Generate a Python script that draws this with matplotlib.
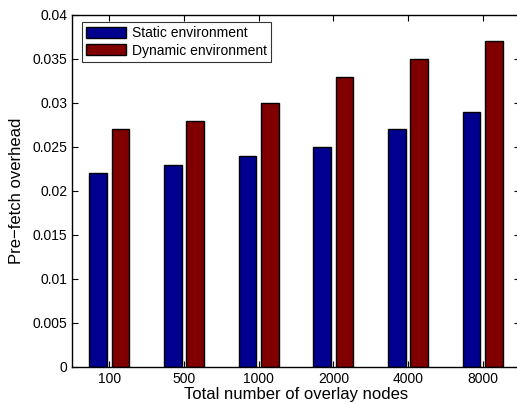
import numpy as np
import matplotlib
matplotlib.use('Agg')
import matplotlib.pyplot as plt

plt.rcParams['font.family'] = ['Liberation Sans', 'DejaVu Sans']

# Data
nodes = ['100', '500', '1000', '2000', '4000', '8000']
static_env = [0.022, 0.023, 0.024, 0.025, 0.027, 0.029]
dynamic_env = [0.027, 0.028, 0.030, 0.033, 0.035, 0.037]

fig = plt.figure(figsize=(5.17, 4.04), dpi=100)
ax = fig.add_axes([72 / 517, 1 - 367 / 404, 448 / 517, 352 / 404])

x = np.arange(1, len(nodes) + 1)
w = 0.24
off = 0.15
ax.bar(x - off, static_env, w, color='#00008f', edgecolor='black', linewidth=1.0,
       label='Static environment')
ax.bar(x + off, dynamic_env, w, color='#800000', edgecolor='black', linewidth=1.0,
       label='Dynamic environment')

ax.set_xlim(0.5, 6.5)
ax.set_ylim(0, 0.04)
ax.set_xticks(x)
ax.set_xticklabels(nodes)
ax.set_yticks(np.arange(0, 0.0401, 0.005))
ax.set_yticklabels(['0', '0.005', '0.01', '0.015', '0.02', '0.025', '0.03', '0.035', '0.04'])
ax.tick_params(direction='in', top=True, right=True, labelsize=10, length=4)
for s in ax.spines.values():
    s.set_linewidth(1.0)

ax.set_xlabel('Total number of overlay nodes', fontsize=12, labelpad=1)
ax.set_ylabel('Pre\u2212fetch overhead', fontsize=12, labelpad=6)

leg = ax.legend(loc='upper left', bbox_to_anchor=(0.022, 0.98), fontsize=10,
                frameon=True, fancybox=False, edgecolor='black', borderpad=0.3,
                handlelength=2.9, handleheight=0.85, handletextpad=0.4,
                labelspacing=0.25, borderaxespad=0)
leg.get_frame().set_linewidth(0.8)

fig.savefig('out.png', dpi=100)
